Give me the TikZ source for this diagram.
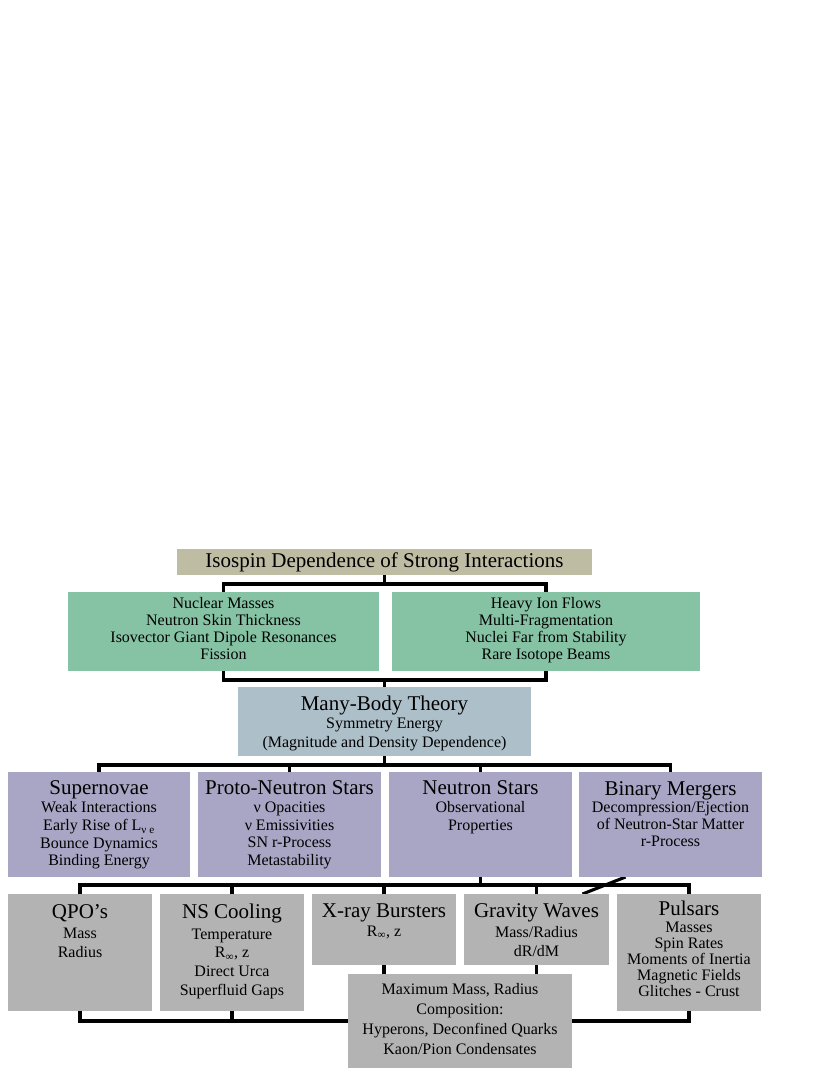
\documentclass[tikz,border=0pt]{standalone}
\usepackage{fontspec}
\setmainfont{Liberation Serif}
\usetikzlibrary{calc}
\pgfdeclarelayer{bg}
\pgfsetlayers{bg,main}
\definecolor{cTitle}{RGB}{190,188,162}
\definecolor{cGreen}{RGB}{134,195,165}
\definecolor{cMB}{RGB}{173,191,201}
\definecolor{cPurple}{RGB}{169,165,196}
\definecolor{cGray}{RGB}{179,179,179}
\begin{document}
\begin{tikzpicture}[x=1pt,y=-1pt,
  box/.style={inner sep=0pt, outer sep=0pt, anchor=north west},
  conn/.style={line width=3.1pt, draw=black},
  head/.style={font=\fontsize{21}{22}\selectfont, anchor=base, inner sep=0pt},
  body/.style={font=\fontsize{16}{#1}\selectfont, align=center, anchor=north, inner sep=0pt},
  body/.default=18
]
\path[use as bounding box] (0,0) rectangle (830,1075);

% boxes
\node[box, fill=cTitle, minimum width=415pt, minimum height=26pt, font=\fontsize{21}{22}\selectfont] (title) at (177,549) {Isospin Dependence of Strong Interactions};
\node[box, fill=cGreen, minimum width=311pt, minimum height=79pt] (gl) at (68,592) {};
\node[box, fill=cGreen, minimum width=308pt, minimum height=79pt] (gr) at (392,592) {};
\node[box, fill=cMB, minimum width=293pt, minimum height=69pt] (mb) at (238,687) {};
\node[box, fill=cPurple, minimum width=182pt, minimum height=105pt] (sn) at (8,772) {};
\node[box, fill=cPurple, minimum width=183pt, minimum height=105pt] (pns) at (198,772) {};
\node[box, fill=cPurple, minimum width=183pt, minimum height=105pt] (ns) at (389,772) {};
\node[box, fill=cPurple, minimum width=183pt, minimum height=105pt] (bm) at (579,772) {};
\node[box, fill=cGray, minimum width=144pt, minimum height=117pt] (qpo) at (8,894) {};
\node[box, fill=cGray, minimum width=144pt, minimum height=117pt] (nsc) at (160,894) {};
\node[box, fill=cGray, minimum width=144pt, minimum height=71pt] (xrb) at (312,894) {};
\node[box, fill=cGray, minimum width=145pt, minimum height=71pt] (gw) at (464,894) {};
\node[box, fill=cGray, minimum width=144pt, minimum height=117pt] (pul) at (617,894) {};
\node[box, fill=cGray, minimum width=224pt, minimum height=94pt] (mm) at (348,974) {};

% texts
\node[body=17] (gl-t) at ($(gl.north)+(0,5.5)$) {Nuclear Masses\\Neutron Skin Thickness\\Isovector Giant Dipole Resonances\\Fission};
\node[body=17] (gr-t) at ($(gr.north)+(0,5.5)$) {Heavy Ion Flows\\Multi-Fragmentation\\Nuclei Far from Stability\\Rare Isotope Beams};

\node[head] (mb-h) at ($(mb.north)+(0,23)$) {Many-Body Theory};
\node[body=19.5] (mb-t) at ($(mb.north)+(0,30.5)$) {Symmetry Energy\\(Magnitude and Density Dependence)};

\node[head] (sn-h) at ($(sn.north)+(0,22)$) {Supernovae};
\node[body=17.7] (sn-t) at ($(sn.north)+(0,29.5)$) {Weak Interactions\\Early Rise of L\textsubscript{ν e}\\Bounce Dynamics\\Binding Energy};
\node[head] (pns-h) at ($(pns.north)+(0,22)$) {Proto-Neutron Stars};
\node[body=17.7] (pns-t) at ($(pns.north)+(0,29.5)$) {ν Opacities\\ν Emissivities\\SN r-Process\\Metastability};
\node[head] (ns-h) at ($(ns.north)+(0,22)$) {Neutron Stars};
\node[body=17.7] (ns-t) at ($(ns.north)+(0,29.5)$) {Observational\\Properties};
\node[head] (bm-h) at ($(bm.north)+(0,23)$) {Binary Mergers};
\node[body=17] (bm-t) at ($(bm.north)+(0,30)$) {Decompression/Ejection\\of Neutron-Star Matter\\r-Process};

\node[head] (qpo-h) at ($(qpo.north)+(0,24.5)$) {QPO’s};
\node[body=19] (qpo-t) at ($(qpo.north)+(0,33.5)$) {Mass\\Radius};
\node[head] (nsc-h) at ($(nsc.north)+(0,24.5)$) {NS Cooling};
\node[body=18.7] (nsc-t) at ($(nsc.north)+(0,34.5)$) {Temperature\\R\textsubscript{∞}, z\\Direct Urca\\Superfluid Gaps};
\node[head] (xrb-h) at ($(xrb.north)+(0,23.5)$) {X-ray Bursters};
\node[body] (xrb-t) at ($(xrb.north)+(0,31.5)$) {R\textsubscript{∞}, z};
\node[head] (gw-h) at ($(gw.north)+(0,23.5)$) {Gravity Waves};
\node[body=18.6] (gw-t) at ($(gw.north)+(0,32.5)$) {Mass/Radius\\dR/dM};
\node[head] (pul-h) at ($(pul.north)+(0,21.5)$) {Pulsars};
\node[body=16.2] (pul-t) at ($(pul.north)+(0,27.5)$) {Masses\\Spin Rates\\Moments of Inertia\\Magnetic Fields\\Glitches - Crust};
\node[body=20] (mm-t) at ($(mm.north)+(0,9.5)$) {Maximum Mass, Radius\\Composition:\\Hyperons, Deconfined Quarks\\Kaon/Pion Condensates};

% connectors
\begin{pgfonlayer}{bg}
\draw[conn] (title.south) -- ++(0,9);
\draw[conn] (gl.north) -- ++(0,-8) -| (gr.north);
\draw[conn] (gl.south) -- ++(0,9) -| (gr.south);
\draw[conn] (mb.north) -- ++(0,-7);
\draw[conn] (mb.south) -- ++(0,9);
\draw[conn] (sn.north) -- ++(0,-7) -| (bm.north);
\draw[conn] (pns.north) -- ++(0,-7);
\draw[conn] (ns.north) -- ++(0,-7);
\draw[conn] (ns.south) -- ++(0,8);
\draw[conn] (qpo.north) -- ++(0,-9) -| (pul.north);
\draw[conn] (nsc.north) -- ++(0,-9);
\draw[conn] (xrb.north) -- ++(0,-9);
\draw[conn] (gw.north) -- ++(0,-9);
\draw[conn] ([xshift=-45pt]bm.south) -- ([xshift=46pt]gw.north);
\draw[conn] (xrb.south) -- (xrb.south |- mm.north);
\draw[conn] (gw.south) -- (gw.south |- mm.north);
\draw[conn] (qpo.south) -- ++(0,10) -| (pul.south);
\draw[conn] (nsc.south) -- ++(0,10);
\end{pgfonlayer}
\end{tikzpicture}
\end{document}
